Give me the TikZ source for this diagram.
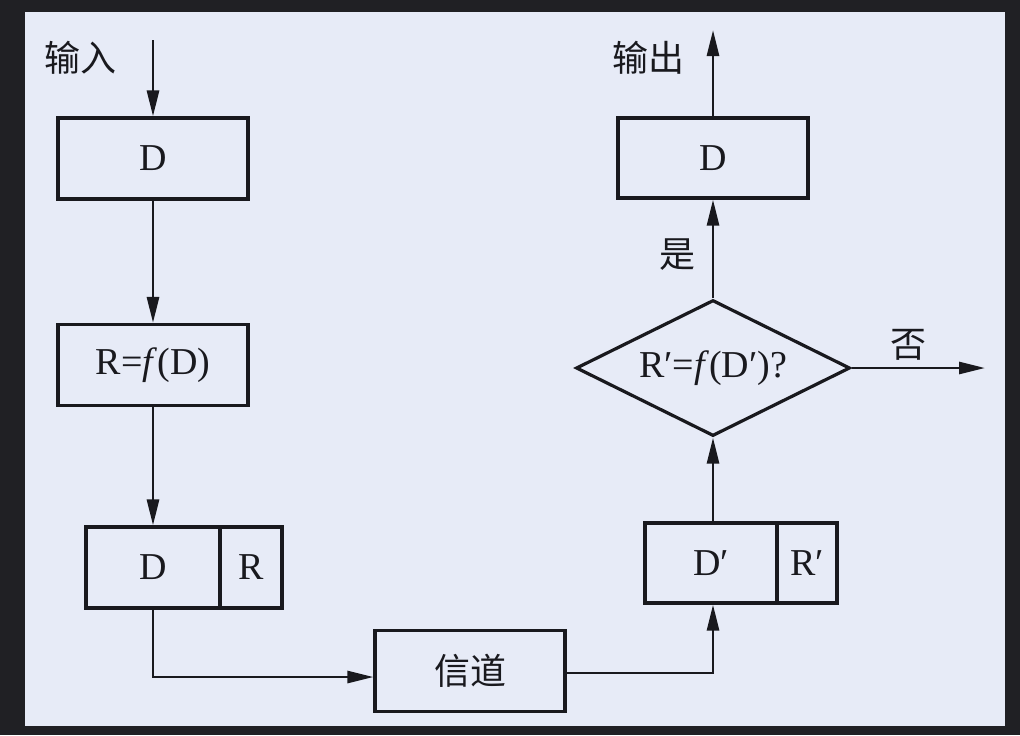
\documentclass[tikz,border=0pt]{standalone}
\usepackage{fontspec}
\setmainfont{Liberation Serif}
\newfontfamily\cjk{Noto Sans CJK SC}
\usetikzlibrary{shapes.geometric,arrows.meta,calc}
\definecolor{framecol}{RGB}{32,32,36}
\definecolor{bgcol}{RGB}{231,235,247}
\definecolor{inkcol}{RGB}{25,25,30}
\tikzset{
  box/.style={draw=inkcol, line width=1.6pt, minimum width=95pt, minimum height=40.5pt, inner sep=0pt, font=\fontsize{19}{19}\selectfont, text=inkcol},
  dia/.style={draw=inkcol, line width=1.6pt, diamond, aspect=2, minimum width=137pt, minimum height=68pt, inner sep=0pt, font=\fontsize{19}{19}\selectfont, text=inkcol},
  lbl/.style={font=\cjk\fontsize{18}{18}\selectfont, text=inkcol, inner sep=0pt},
  arr/.style={draw=inkcol, line width=1.4pt, -{Triangle[length=13pt,width=6pt]}}
}
\begin{document}
\begin{tikzpicture}[x=0.5pt,y=-0.5pt]
\fill[framecol] (0,0) rectangle (1020,735);
\fill[bgcol] (25,12) rectangle (1005,726);
\useasboundingbox (0,0) rectangle (1020,735);

\node[box] (d1) at (153,158.5) {D};
\node[box] (rfd) at (153,365) {R=\textit{f}(D)};
\node[box, minimum width=67pt] (drd) at (153,567.5) {D};
\node[box, minimum width=31pt] (drr) at (251,567.5) {R};
\node[box, font=\cjk\fontsize{18}{18}\selectfont] (chan) at (470,671) {信道};
\node[box, minimum width=66pt, minimum height=40pt] (dpd) at (711,563) {D′};
\node[box, minimum width=30pt, minimum height=40pt] (dpr) at (807,563) {R′};
\node[dia] (chk) at (713,368) {R′=\textit{f}(D′)?};
\node[box, minimum width=95pt, minimum height=40pt] (d2) at (713,158) {D};

\coordinate (inp) at (153,40);
\coordinate (outp) at (713,30);
\coordinate (nop) at (985,368);

\node[lbl] (lin) at (80,58) {输入};
\node[lbl] (lout) at (648,58) {输出};
\node[lbl] (lyes) at (677,255) {是};
\node[lbl] (lno) at (908,345) {否};

\draw[arr] (inp) -- (d1.north);
\draw[arr] (d1.south) -- (rfd.north);
\draw[arr] (rfd.south) -- (drd.north);
\draw[arr] (drd.south) |- ($(chan.west)+(0,6)$);
\draw[arr] ($(chan.east)+(0,2)$) -| (chk.south |- dpd.south);
\draw[arr] (chk.south |- dpd.north) -- (chk.south);
\draw[arr] (chk.north) -- (d2.south);
\draw[arr] (d2.north) -- (outp);
\draw[arr] (chk.east) -- (nop);
\end{tikzpicture}
\end{document}
